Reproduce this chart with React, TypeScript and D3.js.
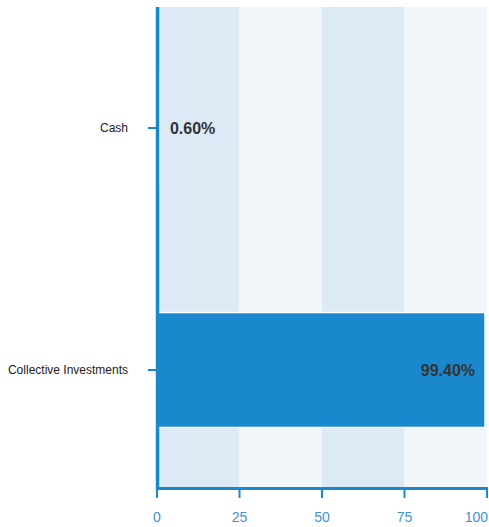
import React from "react";
import * as d3 from "d3";

const categories = ["Cash", "Collective Investments"];
const values = [0.6, 99.4];
const xTicks = [0, 25, 50, 75, 100];

const W = 489;
const H = 527;
const left = 157;
const right = 487;
const top = 7;
const bottom = 488;

export default function App() {
  const x = d3.scaleLinear().domain([0, 100]).range([left, right]);
  const y = d3.scaleBand<string>().domain(categories).range([top, 491]).padding(0);
  const barH = y.bandwidth() * 0.475;
  const stripes = xTicks.slice(0, -1).map((t, i) => ({ x0: x(t), x1: x(xTicks[i + 1]), dark: i % 2 === 0 }));
  const fmt = (v: number) => v.toFixed(2) + "%";

  return (
    <svg
      width={W}
      height={H}
      style={{ position: "absolute", left: 0, top: 0, fontFamily: "'Liberation Sans', Arial, sans-serif" }}
    >
      <rect x={0} y={0} width={W} height={H} fill="#ffffff" />
      {stripes.map((s, i) => (
        <rect
          key={i}
          x={s.x0}
          y={top}
          width={s.x1 - s.x0}
          height={bottom - top}
          fill={s.dark ? "#dbeaf5" : "#f1f6fb"}
        />
      ))}
      {categories.map((c, i) => {
        const cy = (y(c) as number) + y.bandwidth() / 2;
        const x1 = x(values[i]);
        const inside = values[i] > 20;
        return (
          <g key={c}>
            <rect
              x={x(0)}
              y={cy - barH / 2}
              width={x1 - x(0)}
              height={barH}
              fill="#1a88cc"
              stroke="#ffffff"
              strokeWidth={1.5}
            />
            <text
              x={inside ? x1 - 10 : x1 + 11}
              y={cy}
              dy="0.36em"
              textAnchor={inside ? "end" : "start"}
              fontSize={16}
              fontWeight="bold"
              fill="#333333"
            >
              {fmt(values[i])}
            </text>
            <line x1={148} x2={157} y1={cy} y2={cy} stroke="#1a88cc" strokeWidth={2} />
            <text x={128} y={cy} dy="0.36em" textAnchor="end" fontSize={12} fill="#222222">
              {c}
            </text>
          </g>
        );
      })}
      {/* left axis */}
      <line x1={157.5} x2={157.5} y1={top} y2={490} stroke="#1a88cc" strokeWidth={3.5} />
      {/* bottom axis */}
      <line x1={156} x2={488} y1={488.5} y2={488.5} stroke="#1a88cc" strokeWidth={3} />
      {xTicks.map((t, i) => {
        const tx = Math.min(x(t), right);
        const last = i === xTicks.length - 1;
        return (
          <g key={t}>
            <line x1={tx} x2={tx} y1={488} y2={498} stroke="#1a88cc" strokeWidth={2} />
            <text
              x={last ? 488 : x(t)}
              y={522}
              textAnchor={last ? "end" : "middle"}
              fontSize={14}
              fill="#3f93d3"
            >
              {t}
            </text>
          </g>
        );
      })}
    </svg>
  );
}
